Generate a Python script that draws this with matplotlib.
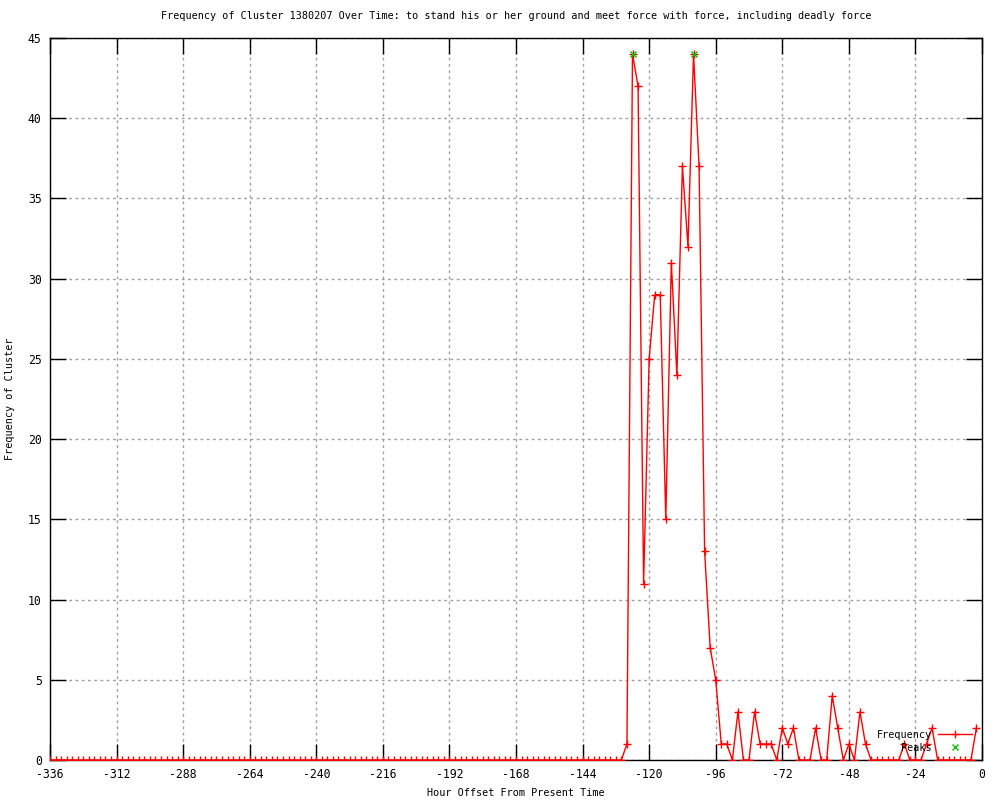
"""Cluster frequency over time, gnuplot-look line chart."""
import matplotlib
matplotlib.use("Agg")
import matplotlib.pyplot as plt
import numpy as np

FONT = ["DejaVu Sans Mono"]
plt.rcParams["font.family"] = FONT
plt.rcParams["axes.unicode_minus"] = False
FS = 7.3

# hours: -336 .. -2, every 2 hours
hours = np.arange(-336, 0, 2)
freq = [
    0, 0, 0, 0, 0, 0, 0, 0, 0, 0, 0, 0, 0, 0, 0, 0, 0, 0, 0, 0,
    0, 0, 0, 0, 0, 0, 0, 0, 0, 0, 0, 0, 0, 0, 0, 0, 0, 0, 0, 0,
    0, 0, 0, 0, 0, 0, 0, 0, 0, 0, 0, 0, 0, 0, 0, 0, 0, 0, 0, 0,
    0, 0, 0, 0, 0, 0, 0, 0, 0, 0, 0, 0, 0, 0, 0, 0, 0, 0, 0, 0,
    0, 0, 0, 0, 0, 0, 0, 0, 0, 0, 0, 0, 0, 0, 0, 0, 0, 0, 0, 0,
    0, 0, 0, 0,                                       # up to -130
    1, 44, 42, 11, 25, 29, 29, 15, 31, 24,            # -128 .. -110
    37, 32, 44, 37, 13, 7, 5, 1, 1, 0,                # -108 .. -90
    3, 0, 0, 3, 1, 1, 1, 0, 2, 1,                     # -88 .. -70
    2, 0, 0, 0, 2, 0, 0, 4, 2, 0,                     # -68 .. -50
    1, 0, 3, 1, 0, 0, 0, 0, 0, 0,                     # -48 .. -30
    1, 0, 0, 0, 1, 2, 0, 0, 0, 0,                     # -28 .. -10
    0, 0, 0, 2,                                       # -8 .. -2
]
peak_hours = [-126, -104]
peak_vals = [44, 44]

xticks = list(range(-336, 1, 24))
yticks = list(range(0, 46, 5))

fig = plt.figure(figsize=(10, 8), dpi=100)
ax = fig.add_axes([0.050, 0.050, 0.932, 0.9025])

ax.plot(hours, freq, color="#ff0000", lw=1.0, marker="+", ms=6, mew=1.0,
        label="Frequency", zorder=3)
ax.plot(peak_hours, peak_vals, ls="none", color="#00c000", marker="x", ms=5,
        mew=1.0, label="Peaks", zorder=4)

ax.set_xlim(-336, 0)
ax.set_ylim(0, 45)
ax.set_xticks(xticks)
ax.set_yticks(yticks)
ax.tick_params(direction="in", length=11.5, width=1, top=True, right=True,
               labelsize=8.3, pad=6)
ax.grid(True, color="#a0a0a0", lw=1, ls=(0, (2, 2.5)), zorder=1)
for s in ax.spines.values():
    s.set_linewidth(1)

ax.set_title("Frequency of Cluster 1380207 Over Time: to stand his or her ground and meet force with force, including deadly force",
             fontsize=FS, pad=14)
ax.set_xlabel("Hour Offset From Present Time", fontsize=FS, labelpad=5)
ax.set_ylabel("Frequency of Cluster", fontsize=FS, labelpad=9)

ax.legend(loc="lower right", bbox_to_anchor=(0.997, 0.0), frameon=False,
          markerfirst=False, fontsize=FS, handlelength=3.4, handletextpad=0.6,
          labelspacing=0.3, borderpad=0.2)

fig.savefig("out.png", dpi=100, facecolor="white")
plt.close(fig)
